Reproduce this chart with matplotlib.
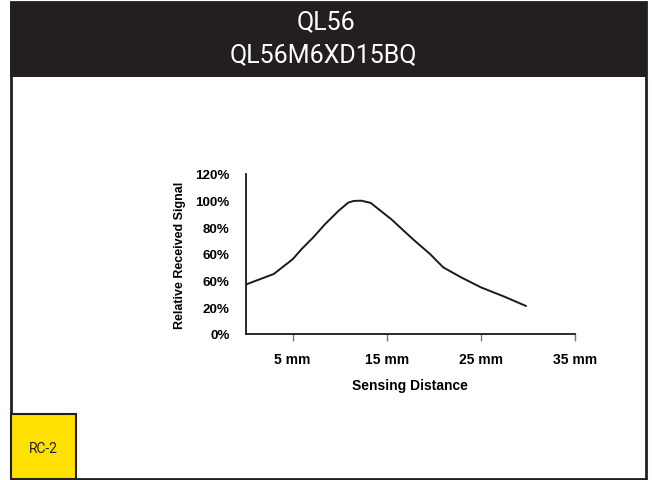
import matplotlib
matplotlib.use("Agg")
import matplotlib.pyplot as plt
from matplotlib.patches import Rectangle

# Relative received signal vs. sensing distance
distance_mm = [0, 3, 5, 6, 7.2, 8.4, 9.9, 10.9, 11.5, 12.3, 13.3, 15.5, 17.8, 19.6, 21, 22.9, 25, 27.5, 29.8]
signal_pct = [37, 45, 56, 64, 72.5, 82, 92.5, 98.5, 99.8, 100, 98.3, 86, 71, 60, 50, 42.5, 35, 28, 21]

x_ticks = [5, 15, 25, 35]
x_tick_labels = ["5 mm", "15 mm", "25 mm", "35 mm"]
y_ticks = [0, 20, 40, 60, 80, 100, 120]
y_tick_labels = ["0%", "20%", "60%", "60%", "80%", "100%", "120%"]

title_lines = ["QL56", "QL56M6XD15BQ"]
badge_text = "RC-2"

W, H = 652, 481
DARK = "#231f20"

fig = plt.figure(figsize=(W / 100, H / 100), dpi=100)
fig.patch.set_facecolor("white")


def fx(px):
    return px / W


def fy(py):
    return 1 - py / H


# outer frame
fig.patches.append(Rectangle((fx(11), fy(480)), fx(635), 477 / H, transform=fig.transFigure,
                             facecolor="white", edgecolor=DARK, linewidth=2, zorder=-2))
# header bar
fig.patches.append(Rectangle((fx(10), fy(78)), fx(637), 75 / H, transform=fig.transFigure,
                             facecolor=DARK, edgecolor="none", zorder=-1))
fig.text(fx(326), fy(22), title_lines[0], color="white", ha="center", va="center",
         fontsize=18, family=["Roboto", "DejaVu Sans"])
fig.text(fx(323), fy(55), title_lines[1], color="white", ha="center", va="center",
         fontsize=18, family=["Roboto", "DejaVu Sans"])

# badge in the lower-left corner
fig.patches.append(Rectangle((fx(11), fy(480)), fx(65), 65 / H, transform=fig.transFigure,
                             facecolor="#ffe100", edgecolor=DARK, linewidth=1.5, zorder=2))
fig.text(fx(43.5), fy(449), badge_text, ha="center", va="center", fontsize=10,
         color="#222222", family=["Roboto", "DejaVu Sans"], zorder=3)

# chart area
ax = fig.add_axes([fx(245.5), fy(335), fx(575 - 245.5), (335 - 175) / H])
ax.set_zorder(5)
ax.patch.set_alpha(0)
ax.plot(distance_mm, signal_pct, color="#1a1a1a", linewidth=1.4,
        solid_capstyle="round", solid_joinstyle="round")
ax.set_xlim(0, 35)
ax.set_ylim(0, 120)

for side in ("top", "right"):
    ax.spines[side].set_visible(False)
for side in ("left", "bottom"):
    ax.spines[side].set_color("#1a1a1a")
    ax.spines[side].set_linewidth(1.3)

tick_font = dict(family=["Liberation Sans", "DejaVu Sans"], weight="bold")
ax.set_xticks(x_ticks)
ax.set_xticklabels(x_tick_labels, fontsize=10, **tick_font)
ax.tick_params(axis="x", direction="out", length=5, width=1, color="#777777", pad=8)

ax.set_yticks(y_ticks)
ax.set_yticklabels(y_tick_labels, fontsize=9.6, **tick_font)
ax.tick_params(axis="y", length=0, pad=11.5)
ax.set_yticks([60], minor=True)
ax.tick_params(axis="y", which="minor", direction="out", length=5, width=1, color="#777777")

ax.set_xlabel("Sensing Distance", fontsize=10, labelpad=8.6, **tick_font)
ax.set_ylabel("Relative Received Signal", fontsize=9, labelpad=6.4, **tick_font)

fig.savefig("out.png", dpi=100)
